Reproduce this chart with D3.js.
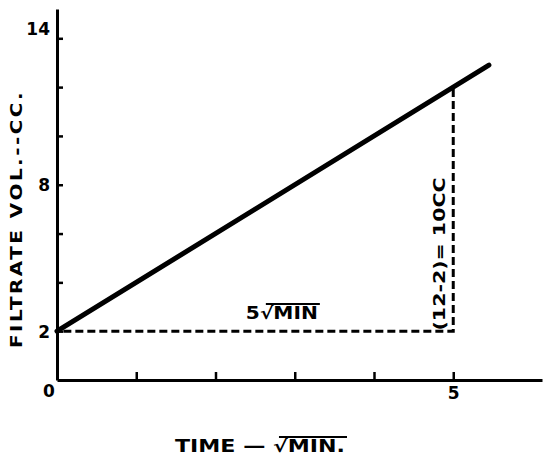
<!DOCTYPE html>
<html>
<head>
<meta charset="utf-8">
<script src="https://cdn.jsdelivr.net/npm/d3@7"></script>
<style>
  body { margin: 0; background: #fff; }
  svg { display: block; }
  text { font-family: "DejaVu Sans", sans-serif; font-weight: bold; fill: #000; }
</style>
</head>
<body>
<div id="chart"></div>
<script>
// datos
const lineX = [0, 5.45];
const lineY = [2, 12.9];
const guideX = [0.08, 5, 5];   // guía discontinua: horizontal en y=2, luego vertical hasta y=12
const guideY = [2, 2, 12];
const xTicks = [1, 2, 3, 4, 5];
const xLabels = [5];
const yTicks = [2, 4, 6, 8, 10, 12, 14];
const yLabels = [2, 8, 14];

const W = 544, H = 460;

const svg = d3.select("#chart").append("svg")
    .attr("width", W)
    .attr("height", H);

// escalas
const x = d3.scaleLinear().domain([0, 6.12]).range([57, 542]);
const y = d3.scaleLinear().domain([0, 15.2]).range([380, 9]);

// eje X (marcas hacia arriba)
const gx = svg.append("g")
    .attr("transform", `translate(0,${y(0)})`)
    .call(d3.axisBottom(x).tickValues(xTicks).tickSizeInner(-8).tickSizeOuter(0).tickPadding(5)
      .tickFormat(d => xLabels.includes(d) ? d : ""));
gx.select(".domain").attr("stroke-width", 3);
gx.selectAll(".tick line").attr("stroke-width", 2.5);
gx.selectAll(".tick text").style("font-size", "17px").attr("dy", "0.85em");

// eje Y (marcas hacia la derecha)
const gy = svg.append("g")
    .attr("transform", `translate(${x(0)},0)`)
    .call(d3.axisLeft(y).tickValues(yTicks).tickSizeInner(-6).tickSizeOuter(0).tickPadding(7)
      .tickFormat(d => yLabels.includes(d) ? d : ""));
gy.select(".domain").attr("stroke-width", 3);
gy.selectAll(".tick line").attr("stroke-width", 2.5);
gy.selectAll(".tick text").style("font-size", "17px")
    .attr("dy", d => d === 14 ? "-0.2em" : "0.35em");

// origen "0"
svg.append("text")
    .attr("x", x(0) - 8)
    .attr("y", y(0) + 17)
    .attr("text-anchor", "middle")
    .style("font-size", "17px")
    .text("0");

// guía discontinua
svg.append("path")
    .datum(d3.zip(guideX, guideY))
    .attr("d", d3.line().x(d => x(d[0])).y(d => y(d[1])))
    .attr("fill", "none")
    .attr("stroke", "#000")
    .attr("stroke-width", 3)
    .attr("stroke-dasharray", "8,4");

// recta principal
svg.append("path")
    .datum(d3.zip(lineX, lineY))
    .attr("d", d3.line().x(d => x(d[0])).y(d => y(d[1])))
    .attr("fill", "none")
    .attr("stroke", "#000")
    .attr("stroke-width", 5)
    .attr("stroke-linecap", "round");

// texto con raíz y raya superior
function rootText(sel, str, from, size, len) {
  const t = sel.append("text")
      .attr("text-anchor", "middle")
      .style("font-size", size + "px")
      .attr("textLength", len)
      .attr("lengthAdjust", "spacingAndGlyphs")
      .text(str);
  const n = t.node();
  const x0 = n.getStartPositionOfChar(from).x + size * 0.35;
  const x1 = n.getEndPositionOfChar(str.length - 1).x + 2;
  sel.append("line")
      .attr("x1", x0).attr("x2", x1)
      .attr("y1", -size * 0.88).attr("y2", -size * 0.88)
      .attr("stroke", "#000")
      .attr("stroke-width", 2);
  return t;
}

// etiqueta 5√MIN
const g5 = svg.append("g").attr("transform", `translate(${(x(2.4) + x(3.3)) / 2 - 1},319)`);
rootText(g5, "5√MIN", 1, 17, 72);

// etiqueta vertical (12-2)= 10CC
svg.append("text")
    .attr("transform", `translate(${x(5) - 8},254) rotate(-90)`)
    .attr("text-anchor", "middle")
    .attr("textLength", 153)
    .attr("lengthAdjust", "spacingAndGlyphs")
    .style("font-size", "16px")
    .text("(12-2)= 10CC");

// título eje X
const gt = svg.append("g").attr("transform", "translate(260,452)");
rootText(gt, "TIME — √MIN.", 7, 17, 170);

// título eje Y
svg.append("text")
    .attr("transform", "translate(22,219) rotate(-90)")
    .attr("text-anchor", "middle")
    .attr("textLength", 258)
    .attr("lengthAdjust", "spacingAndGlyphs")
    .style("font-size", "16px")
    .style("letter-spacing", "2px")
    .text("FILTRATE  VOL.--CC.");
</script>
</body>
</html>
